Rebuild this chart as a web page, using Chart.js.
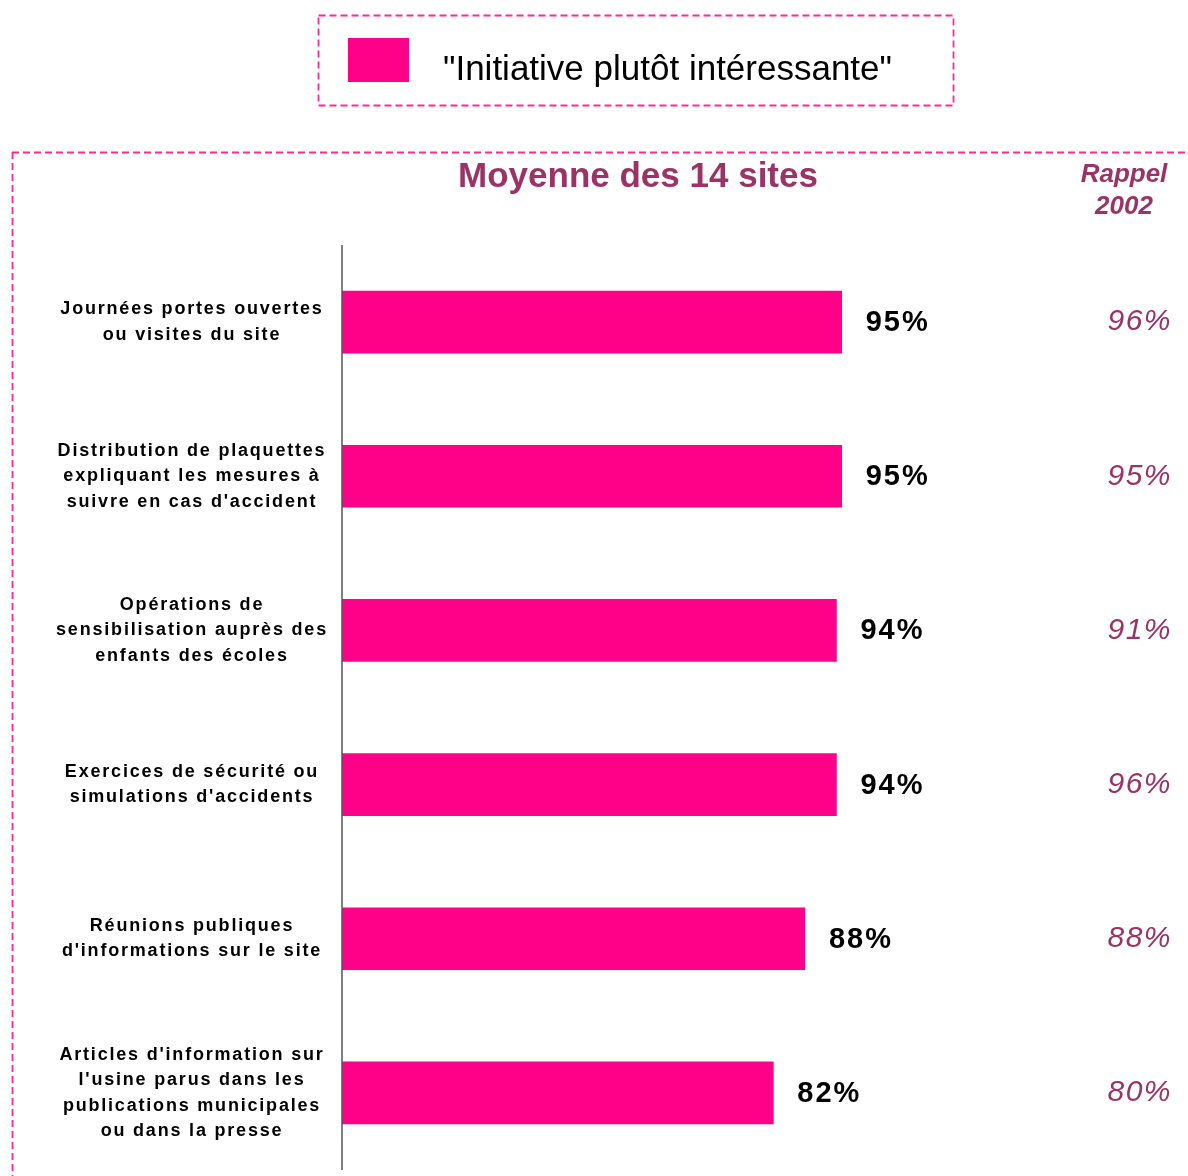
<!DOCTYPE html>
<html>
<head>
<meta charset="utf-8">
<script src="https://cdn.jsdelivr.net/npm/chart.js@4.4.0/dist/chart.umd.min.js"></script>
<style>
  body { margin: 0; background: #fff; }
  #wrap { width: 1188px; height: 1176px; position: relative; }
</style>
</head>
<body>
<div id="wrap"><canvas id="myChart"></canvas></div>
<script>
// Donnees
const categories = [
  ['Journées portes ouvertes', 'ou visites du site'],
  ['Distribution de plaquettes', 'expliquant les mesures à', "suivre en cas d'accident"],
  ['Opérations de', 'sensibilisation auprès des', 'enfants des écoles'],
  ['Exercices de sécurité ou', "simulations d'accidents"],
  ['Réunions publiques', "d'informations sur le site"],
  ["Articles d'information sur", "l'usine parus dans les", 'publications municipales', 'ou dans la presse']
];
const moyenne = [95, 95, 94, 94, 88, 82];
const rappel2002 = [96, 95, 91, 96, 88, 80];
const legendLabel = '"Initiative plutôt intéressante"';
const titre = 'Moyenne des 14 sites';

const ROSE = '#ff0088';
const PRUNE = '#9b3366';

const decor = {
  id: 'decor',
  afterDraw(chart) {
    const c = chart.ctx;
    const area = chart.chartArea;
    const x = chart.scales.x;
    const y = chart.scales.y;
    c.save();

    // cadres pointilles
    c.strokeStyle = '#ff2896';
    c.lineWidth = 1.8;
    c.setLineDash([7, 4]);
    c.strokeRect(318.5, 15.5, 635, 90);
    c.beginPath();
    c.moveTo(12, 152.5); c.lineTo(1188, 152.5);
    c.moveTo(12.5, 152); c.lineTo(12.5, 1176);
    c.stroke();
    c.setLineDash([]);

    // legende
    c.fillStyle = ROSE;
    c.fillRect(348, 38, 61, 44);
    c.fillStyle = '#000';
    c.font = '35px "Liberation Sans", Arial, sans-serif';
    c.textAlign = 'left';
    c.textBaseline = 'middle';
    c.fillText(chart.data.datasets[0].label, 443, 70);

    // titres
    c.fillStyle = PRUNE;
    c.textAlign = 'center';
    c.font = 'bold 35px "Liberation Sans", Arial, sans-serif';
    c.fillText(titre, 638, 177);
    c.font = 'italic bold 26px "Liberation Sans", Arial, sans-serif';
    c.fillText('Rappel', 1124, 175);
    c.fillText('2002', 1124, 207);

    // axe
    c.strokeStyle = '#555';
    c.lineWidth = 1.5;
    c.beginPath();
    c.moveTo(area.left, area.top);
    c.lineTo(area.left, area.bottom);
    c.stroke();

    // libelles categories
    c.fillStyle = '#000';
    c.font = 'bold 18px "Liberation Sans", Arial, sans-serif';
    c.letterSpacing = '1.8px';
    c.textAlign = 'center';
    categories.forEach((lines, i) => {
      const yc = y.getPixelForValue(i);
      const lh = 25.5;
      const y0 = yc - (lines.length - 1) * lh / 2;
      lines.forEach((t, k) => c.fillText(t, 192, y0 + k * lh));
    });

    // valeurs
    c.textAlign = 'left';
    c.font = 'bold 29px "Liberation Sans", Arial, sans-serif';
    c.letterSpacing = '2px';
    moyenne.forEach((v, i) => {
      c.fillText(v + '%', x.getPixelForValue(v) + 24, y.getPixelForValue(i) + 1);
    });

    c.fillStyle = PRUNE;
    c.textAlign = 'right';
    c.font = 'italic 30px "Liberation Sans", Arial, sans-serif';
    c.letterSpacing = '1.5px';
    rappel2002.forEach((v, i) => {
      c.fillText(v + '%', 1172, y.getPixelForValue(i));
    });
    c.restore();
  }
};

const ctx = document.getElementById('myChart');

new Chart(ctx, {
  type: 'bar',
  data: {
    labels: categories,
    datasets: [
      {
        label: legendLabel,
        data: moyenne,
        backgroundColor: ROSE,
        borderWidth: 0,
        barThickness: 62,
      }
    ],
  },
  options: {
    indexAxis: 'y',
    responsive: true,
    maintainAspectRatio: false,
    animation: false,
    layout: {
      padding: { left: 342, right: 320, top: 245, bottom: 6 }
    },
    scales: {
      x: { min: 0, max: 100, display: false },
      y: { display: false }
    },
    plugins: {
      legend: { display: false },
      tooltip: { enabled: false }
    }
  },
  plugins: [decor]
});
</script>
</body>
</html>
